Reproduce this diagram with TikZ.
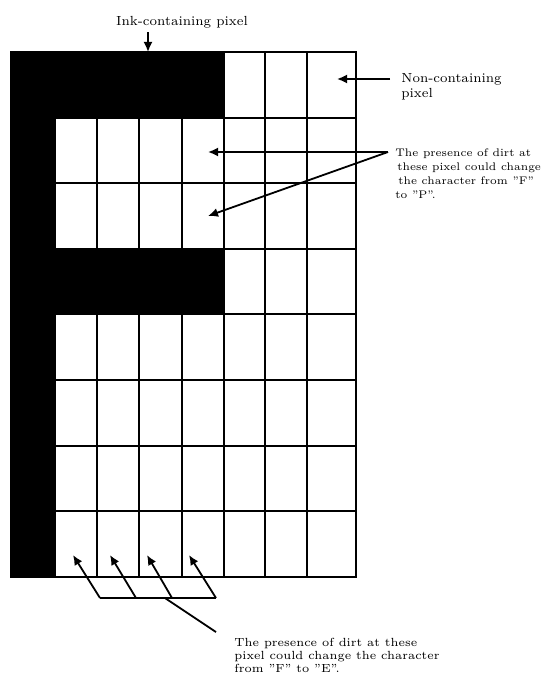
\documentclass[tikz,border=0pt]{standalone}
\usepackage{fontspec}
\usepackage{tikz}
\usetikzlibrary{arrows.meta, positioning, calc}
\newcommand{\dq}{\symbol{34}}

\begin{document}
\begin{tikzpicture}[x=0.5pt, y=-0.5pt,
  gridline/.style={line width=1pt},
  pointer/.style={line width=0.9pt, -{Latex[length=5pt,width=4.5pt]}},
  note/.style={font=\fontsize{6.6}{7}\selectfont, inner sep=0pt, align=left}]
\useasboundingbox (0,0) rectangle (542,674);
% ink-containing pixels of the letter F
\fill (11,52) rectangle (224,117.6);
\fill (11,52) rectangle (55,577);
\fill (11,248.8) rectangle (224,314.4);
% pixel grid
\foreach \x in {55,97,139,182,224,265,307} {
  \draw[gridline] (\x,52) -- (\x,577);
}
\foreach \i in {1,...,7} {
  \draw[gridline] (11,52+65.6*\i) -- (356,52+65.6*\i);
}
\draw[gridline] (11,52) rectangle (356,577);

% labels
\node[note, anchor=base] (inklbl) at (182,26) {Ink-containing pixel};
\coordinate (inkpx) at (148,52);
\draw[pointer] ($(inkpx |- inklbl.south)+(0,3)$) -- (inkpx);

\node[note, anchor=north west, font=\fontsize{6.6}{7.5}\selectfont] (nonlbl) at (401,73) {Non-containing\\pixel};
\coordinate (nonpx) at (337,79);
\draw[pointer] ($(nonlbl.west |- nonpx)+(-11,0)$) -- (nonpx);

\node[note, anchor=north west, font=\fontsize{5.5}{7}\selectfont] (dirtP) at (395,148)
  {The presence of dirt at\\\hspace*{1pt}these pixel could change\\\hspace*{1.5pt}the character from \dq F\dq\\to \dq P\dq.};
\coordinate (splitP) at ($(dirtP.north west)+(-7,4)$);
\coordinate (pxA) at (208,152);
\coordinate (pxB) at (208,216);
\draw[pointer] (splitP) -- (pxA);
\draw[pointer] (splitP) -- (pxB);

\node[note, anchor=north west, font=\fontsize{5.9}{6.5}\selectfont] (dirtE) at (234,638)
  {The presence of dirt at these\\pixel could change the character\\from \dq F\dq{} to \dq E\dq.};
\foreach \bx/\tx [count=\k] in {100/73, 136/110, 172/147, 216/189} {
  \coordinate (foot\k) at (\bx,598);
  \coordinate (epx\k) at (\tx,555);
  \draw[pointer] (foot\k) -- (epx\k);
}
\draw[line width=0.9pt] (foot1) -- (foot4);
\coordinate (joinE) at (165,598);
\draw[line width=0.9pt] (joinE) -- ($(dirtE.north west)+(-18,-6)$);
\end{tikzpicture}
\end{document}
